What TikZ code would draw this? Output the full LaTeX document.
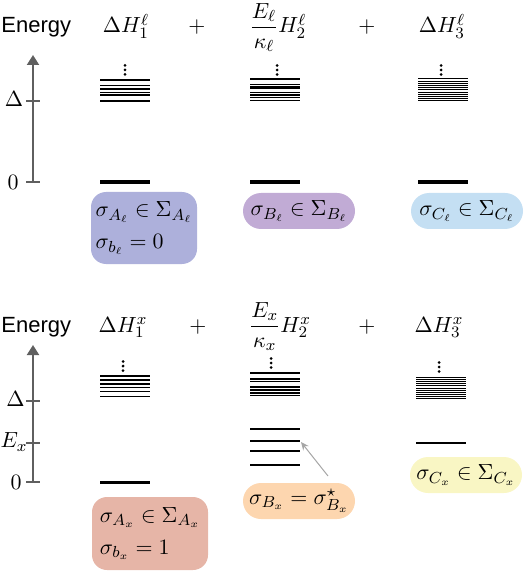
\documentclass[tikz,border=0pt]{standalone}
\usepackage{amsmath}
\usepackage{amssymb}
\usepackage{fontspec}
\setsansfont{Liberation Sans}
\usepackage{tikz}
\usetikzlibrary{arrows.meta}

\definecolor{boxAl}{RGB}{173,176,219}
\definecolor{boxBl}{RGB}{193,171,213}
\definecolor{boxCl}{RGB}{196,223,243}
\definecolor{boxAx}{RGB}{230,181,167}
\definecolor{boxBx}{RGB}{253,214,175}
\definecolor{boxCx}{RGB}{249,246,196}
\definecolor{axisgray}{RGB}{95,95,95}

\begin{document}
\begin{tikzpicture}[x=0.5pt,y=-0.5pt,font=\fontsize{11}{13}\selectfont,
  lvl/.style={line width=0.65pt},
  thinlvl/.style={line width=0.5pt},
  gnd/.style={line width=1.8pt},
  axis/.style={draw=axisgray,line width=1pt,-{Triangle[length=5pt,width=6pt]}},
  tickmark/.style={draw=axisgray,line width=1pt},
  pill/.style={rounded corners=9pt,minimum width=56pt,minimum height=18pt,inner sep=0pt},
  slab/.style={rounded corners=7.5pt,inner sep=0pt,align=left},
  pointer/.style={draw=black!35,line width=0.5pt,-{Stealth[length=4pt,width=3.5pt]}},
  ttl/.style={anchor=base,inner sep=0pt}]
  \useasboundingbox (0,0) rectangle (523,571);

  % upper panel
  \node[ttl,anchor=base west] (enl) at (1,33) {\sffamily Energy};
  \node[ttl] (h1l) at (126,33) {$\Delta H_1^\ell$};
  \node[ttl] (p1l) at (197,33) {$+$};
  \node[ttl] (h2l) at (278,33) {$\dfrac{E_\ell}{\kappa_\ell}H_2^\ell$};
  \node[ttl] (p2l) at (367,33) {$+$};
  \node[ttl] (h3l) at (442,33) {$\Delta H_3^\ell$};

  \coordinate (a0l) at (33,182);
  \coordinate (atl) at (33,55);
  \draw[axis] (a0l) -- (atl);
  \foreach \y in {101.5,182}{\draw[tickmark] (26,\y) -- (40,\y);}
  \node (dl) at (14,99) {$\Delta$};
  \node (zl) at (13,182) {$0$};

  \foreach \y in {80,85.7,89,92.3,95,101}{\draw[lvl] (100,\y) -- (150,\y);}
  \foreach \y in {79,84.5,86.3,88,92.7,95,97.7,100.7}{\draw[lvl] (250,\y) -- (300,\y);}
  \foreach \y in {79,81.2,83.4,85.6,87.8,90,92.2,94.4,96.6,98.8,101}{\draw[thinlvl] (418,\y) -- (468,\y);}
  \foreach \x in {100,250,418}{\draw[gnd] (\x,182) -- (\x+50,182);}
  \foreach \x in {125,277,441}{
    \foreach \d in {0,4.5,9}{\fill (\x,65.5+\d) circle (0.75pt);}}

  \node[slab,fill=boxAl,minimum width=53pt,minimum height=36pt] (bAl) at (144,228)
    {$\sigma_{A_\ell}\in\Sigma_{A_\ell}$\\[3pt]$\sigma_{b_\ell}=0$};
  \node[pill,fill=boxBl] (bBl) at (299,211) {$\sigma_{B_\ell}\in\Sigma_{B_\ell}$};
  \node[pill,fill=boxCl] (bCl) at (467,211) {$\sigma_{C_\ell}\in\Sigma_{C_\ell}$};

  % lower panel
  \node[ttl,anchor=base west] (enx) at (1,332) {\sffamily Energy};
  \node[ttl] (h1x) at (123,332) {$\Delta H_1^x$};
  \node[ttl] (p1x) at (198,332) {$+$};
  \node[ttl] (h2x) at (280,332) {$\dfrac{E_x}{\kappa_x}H_2^x$};
  \node[ttl] (p2x) at (367,332) {$+$};
  \node[ttl] (h3x) at (439,332) {$\Delta H_3^x$};

  \coordinate (a0x) at (33,482);
  \coordinate (atx) at (33,345);
  \draw[axis] (a0x) -- (atx);
  \foreach \y in {400.5,443,482}{\draw[tickmark] (26,\y) -- (40,\y);}
  \node (dx) at (15.5,399) {$\Delta$};
  \node (ex) at (14,442) {$E_x$};
  \node (zx) at (16,482) {$0$};

  \foreach \y in {376,380,384,387.7,391.7,396.7}{\draw[lvl] (100,\y) -- (150,\y);}
  \foreach \y in {373,379,381.5,387,390,393,395.5}{\draw[lvl] (250,\y) -- (300,\y);}
  \foreach \y in {429,441,451,465}{\draw[lvl] (250,\y) -- (300,\y);}
  \foreach \y in {377,379.2,381.4,383.6,385.8,388,390.2,392.4,394.6,396.8,398.5}{\draw[thinlvl] (416,\y) -- (466,\y);}
  \draw[lvl] (416,443) -- (466,443);
  \draw[gnd] (100,482.5) -- (150,482.5);
  \foreach \x/\y in {123/361.5,271/358.5,439/362.5}{
    \foreach \d in {0,4.5,9}{\fill (\x,\y+\d) circle (0.75pt);}}

  \node[slab,fill=boxAx,minimum width=58pt,minimum height=36.5pt] (bAx) at (150,533.5)
    {$\sigma_{A_x}\in\Sigma_{A_x}$\\[3pt]$\sigma_{b_x}=1$};
  \node[pill,fill=boxBx] (bBx) at (299,501) {$\sigma_{B_x}=\sigma^\star_{B_x}$};
  \node[pill,fill=boxCx] (bCx) at (466,475) {$\sigma_{C_x}\in\Sigma_{C_x}$};

  \coordinate (ptail) at (328,476);
  \coordinate (phead) at (301,442);
  \draw[pointer] (ptail) -- (phead);
\end{tikzpicture}
\end{document}
